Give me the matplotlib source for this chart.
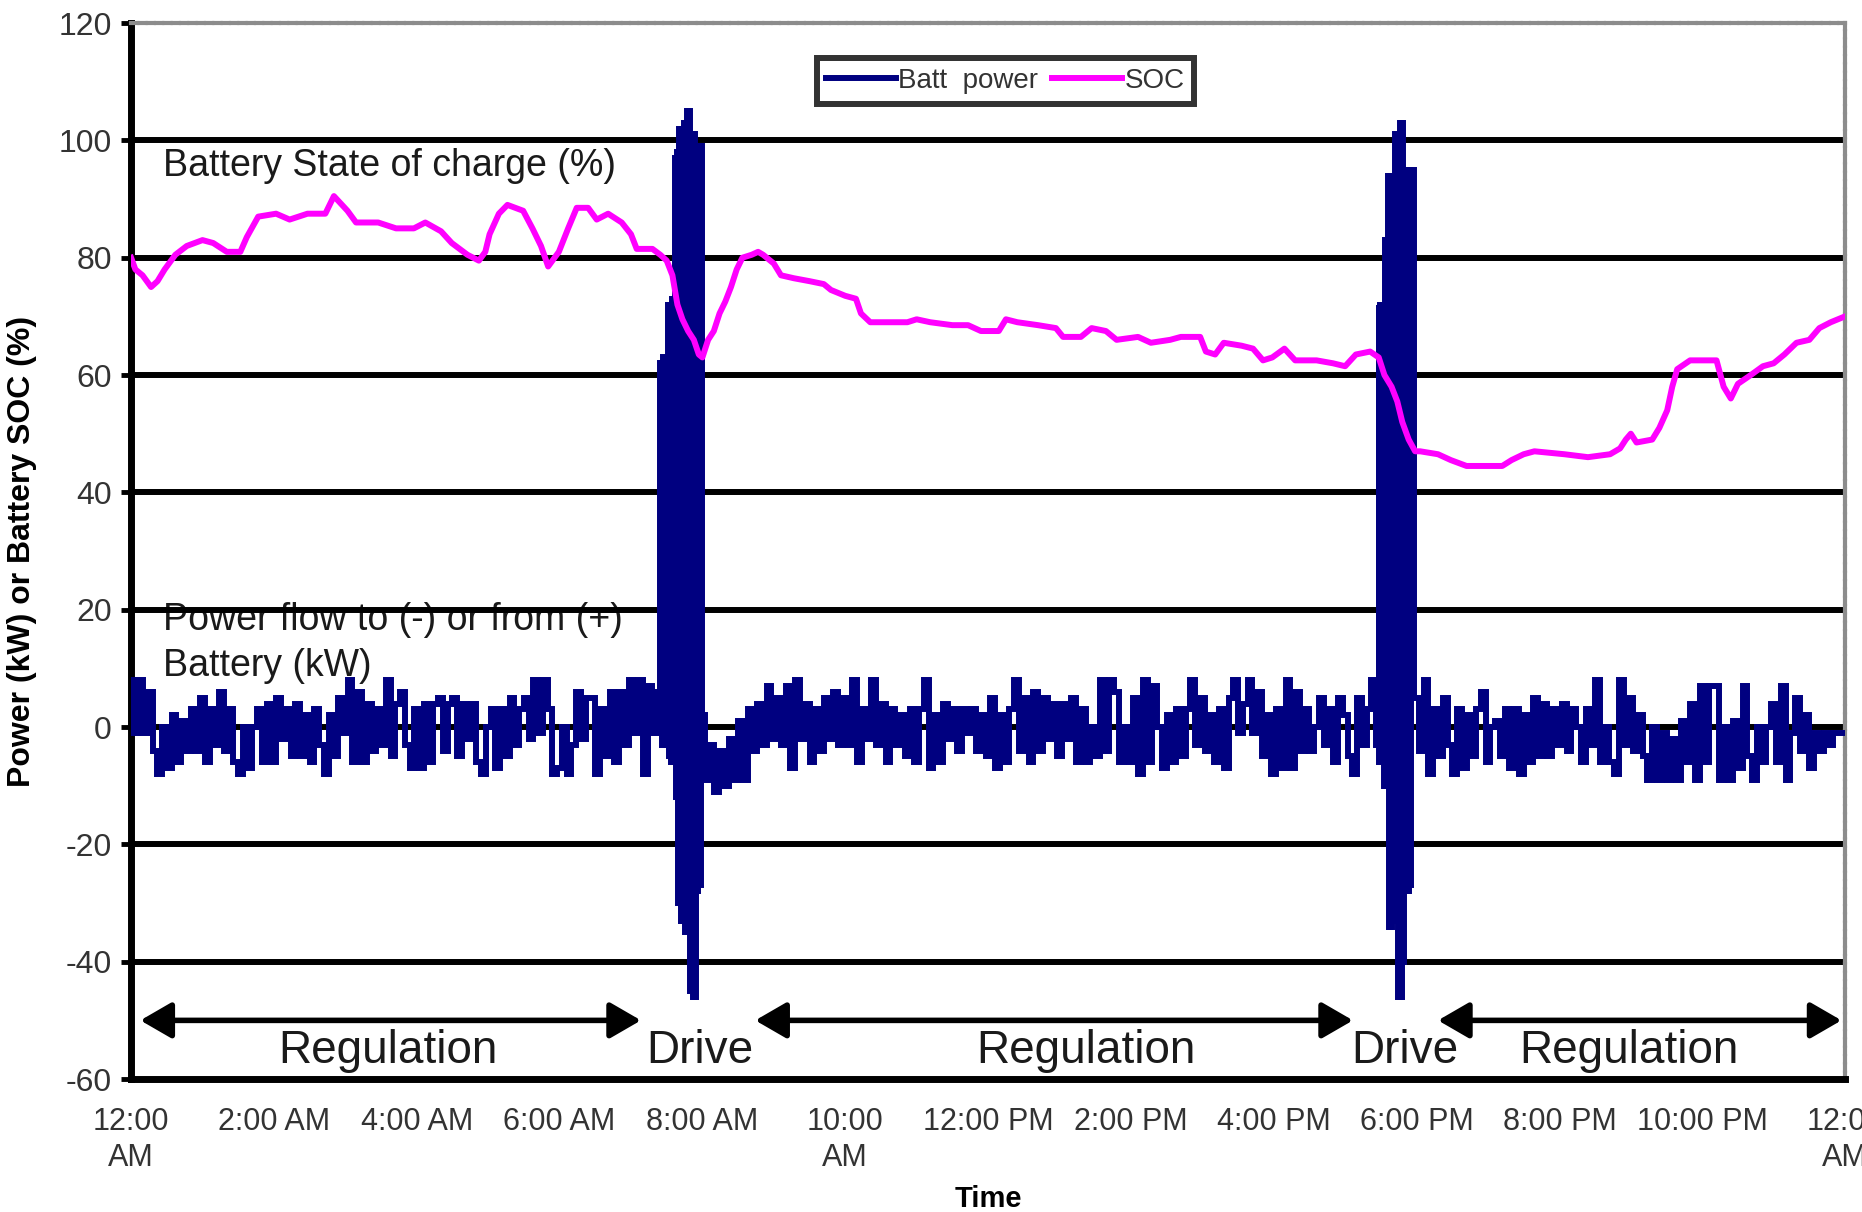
import numpy as np
import matplotlib
matplotlib.use('Agg')
import matplotlib.pyplot as plt

plt.rcParams['font.family'] = ['Liberation Sans', 'DejaVu Sans']
plt.rcParams['axes.unicode_minus'] = False

# --- battery power (kW), regulation sampled every 4 min, drive every 1 min ---
reg_step = 1 / 15.0

power_a = [  # 0:00 -> 7:24
    8, -1, 8, -1, 6, -4, -8, 0, -7, 2, -6, 1, -4, 3, -4,
    5, -6, 3, -3, 6, -4, 3, -6, -8, 0, -7, 0, 3, -6, 4,
    -6, 5, -2, 3, -5, 4, -5, 2, -6, 3, -3, -8, 2, -5, 5,
    -1, 8, -6, 6, -6, 4, -4, 3, -3, 8, -5, 4, 6, -3, -7,
    3, -7, 4, -6, 4, 5, -4, 4, 5, -5, 4, -2, 4, -6, -8,
    0, 3, -7, 3, -5, 5, -3, 3, 5, -2, 8, -1, 8, 3, -8,
    -7, 0, -8, -3, 6, -2, 5, 5, -8, 3, -5, 6, -6, 6, -3,
    8, -1, 8, -8, 7, -1, 6,
]
drive1_start = 7.42
drive1 = [
    62, -3, 63, -2, 62, -3, 72, -5, 72, -6, 73, -6, 97, -12, 98, -30,
    102, -33, 102, -33, 103, -35, 105, -35, 105, -45, 101, -46, 101, -46,
    99, -28, 99, -27, 99,
]
power_b_start = 8.0
power_b = [  # 8:00 -> 17:28
    2, -9, -3, -11, -4, -10, -2, -9, 1, -9, 3, -4, 4, -3, 7,
    -2, 5, -3, 7, -7, 8, -2, 4, -6, 3, -4, 5, -2, 6, -3,
    5, -3, 8, -6, 3, -2, 8, -3, 4, -6, 3, -3, 2, -5, 3,
    -6, 3, 8, -7, 2, -6, 4, -2, 3, -4, 3, -1, 3, -4, 2,
    -5, 5, -7, 2, -6, 3, 8, -4, 5, -6, 6, -4, 5, -2, 4,
    -5, 4, -2, 5, -6, 3, -6, 0, -5, 8, -4, 8, 6, -6, 0,
    -6, 5, -8, 8, -6, 7, 0, -7, 2, -6, 3, -5, 3, 8, -3,
    5, -4, 2, -6, 3, -7, 5, 8, -1, 4, 8, -1, 6, -5, 2,
    -8, 3, -7, 8, -7, 6, -4, 3, -4, 0, 5, -3, 3, -6, 5,
    2, -5, -8, 5, -3, 3, 8, -3,
]
drive2_start = 17.47
drive2 = [
    72, -6, 72, -5, 72, -10, 83, -10, 94, -34, 94, -34, 94, -30, 101, -33,
    101, -46, 103, -46, 103, -40, 95, -28, 95, -28, 95, -27, 95,
]
power_c_start = 18.0
power_c = [  # 18:00 -> 24:00
    5, -4, 8, -8, 3, -5, 5, -3, -8, 3, -7, 2, -5, 3, 6,
    -6, 0, 1, -5, 3, -7, 3, -8, 2, -6, 5, -5, 4, -5, 3,
    -3, 4, -4, 3, 0, -6, 3, -3, 8, -6, 0, -6, -8, 8, -3,
    5, -4, 2, -5, -9, 0, -9, -1, -9, -2, -9, 1, -6, 4, -9,
    7, -6, 7, 7, -9, 0, -9, 1, -7, 7, -5, -9, 0, -6, 0,
    4, -6, 7, -9, -1, 5, -4, 2, -7, -1, -4, -1, -3, -1, -1,
    -1,
]

# --- battery state of charge (%) ---
soc_t = [0.00, 0.06, 0.16, 0.28, 0.37, 0.47, 0.62, 0.78, 1.00, 1.15, 1.34, 1.53,
         1.62, 1.78, 2.03, 2.22, 2.47, 2.72, 2.84, 3.03, 3.15, 3.46, 3.71, 3.96,
         4.12, 4.34, 4.49, 4.71, 4.87, 4.96, 5.02, 5.15, 5.27, 5.49, 5.62, 5.74,
         5.84, 5.99, 6.12, 6.24, 6.40, 6.52, 6.68, 6.87, 7.00, 7.08, 7.30, 7.41,
         7.50, 7.58, 7.65, 7.72, 7.80, 7.88, 7.95, 8.00, 8.08, 8.16, 8.24, 8.32,
         8.40, 8.48, 8.56, 8.69, 8.78, 8.85, 9.00, 9.10, 9.28, 9.50, 9.70, 9.80,
         10.00, 10.15, 10.22, 10.35, 10.87, 11.00, 11.19, 11.50, 11.72, 11.90,
         12.15, 12.25, 12.41, 12.70, 12.95, 13.05, 13.30, 13.45, 13.65, 13.80,
         14.10, 14.28, 14.55, 14.70, 14.97, 15.05, 15.18, 15.30, 15.55, 15.71,
         15.85, 15.98, 16.15, 16.30, 16.60, 16.83, 17.00, 17.15, 17.35, 17.47,
         17.55, 17.65, 17.73, 17.80, 17.89, 17.98, 18.05, 18.30, 18.48, 18.70,
         18.96, 19.20, 19.33, 19.50, 19.65, 20.07, 20.40, 20.71, 20.85, 20.93,
         21.00, 21.08, 21.30, 21.40, 21.51, 21.58, 21.65, 21.83, 22.20, 22.30,
         22.40, 22.50, 22.68, 22.85, 23.00, 23.15, 23.32, 23.50, 23.64, 23.80,
         24.00]
soc_v = [80, 78, 77, 75, 76, 78, 80.5, 82, 83, 82.5, 81, 81,
         83.5, 87, 87.5, 86.5, 87.5, 87.5, 90.5, 88, 86, 86, 85, 85,
         86, 84.5, 82.5, 80.5, 79.5, 81, 84, 87.5, 89, 88, 85, 82,
         78.5, 81, 85, 88.5, 88.5, 86.5, 87.5, 86, 84, 81.5, 81.5, 80.5,
         79.5, 77, 72, 69.5, 67.5, 66, 63.5, 63, 66, 67.5, 70.5, 72.5,
         75, 78, 80, 80.5, 81, 80.5, 79, 77, 76.5, 76, 75.5, 74.5,
         73.5, 73, 70.5, 69, 69, 69.5, 69, 68.5, 68.5, 67.5,
         67.5, 69.5, 69, 68.5, 68, 66.5, 66.5, 68, 67.5, 66,
         66.5, 65.5, 66, 66.5, 66.5, 64, 63.5, 65.5, 65, 64.5,
         62.5, 63, 64.5, 62.5, 62.5, 62, 61.5, 63.5, 64, 63,
         60, 58, 55.5, 52, 49, 47, 47, 46.5, 45.5, 44.5,
         44.5, 44.5, 45.5, 46.5, 47, 46.5, 46, 46.5, 47.5, 49,
         50, 48.5, 49, 51, 54, 58, 61, 62.5, 62.5, 58,
         56, 58.5, 60, 61.5, 62, 63.5, 65.5, 66, 68, 69,
         70]

tick_hours = [0, 2, 4, 6, 8, 10, 12, 14, 16, 18, 20, 22, 24]
tick_labels = ['12:00\nAM', '2:00 AM', '4:00 AM', '6:00 AM', '8:00 AM', '10:00\nAM',
               '12:00 PM', '2:00 PM', '4:00 PM', '6:00 PM', '8:00 PM', '10:00 PM',
               '12:00\nAM']

phases = ['Regulation', 'Drive', 'Regulation', 'Drive', 'Regulation']
phase_centers = [3.6, 7.97, 13.37, 17.84, 20.98]
arrow_spans = [(0.13, 7.14), (8.74, 17.11), (18.3, 23.95)]


def seg_times(start, n, step):
    return start + step * np.arange(n)


t_power = np.concatenate([
    seg_times(0.0, len(power_a), reg_step),
    seg_times(drive1_start, len(drive1), 1 / 60.0),
    seg_times(power_b_start, len(power_b), reg_step),
    seg_times(drive2_start, len(drive2), 1 / 60.0),
    seg_times(power_c_start, len(power_c), reg_step),
])
p_power = np.array(power_a + drive1 + power_b + drive2 + power_c, dtype=float)

fig = plt.figure(figsize=(18.62, 12.12), dpi=100)
ax = fig.add_axes([0.0704, 0.1097, 0.9205, 0.8713])

NAVY = '#000080'
MAGENTA = '#FF00FF'
GREY_TXT = '#333333'

for y in range(-40, 101, 20):
    ax.axhline(y, color='black', lw=4.3, zorder=2)

ax.plot(t_power, p_power, color=NAVY, lw=4.3, drawstyle='steps-mid',
        solid_joinstyle='miter', label='Batt  power', zorder=3)
ax.plot(soc_t, soc_v, color=MAGENTA, lw=4.3, label='SOC', zorder=4)

ax.set_xlim(0, 24)
ax.set_ylim(-60, 120)
ax.set_yticks(range(-60, 121, 20))
ax.set_xticks(tick_hours)
ax.set_xticklabels(tick_labels, fontsize=22, color=GREY_TXT, linespacing=1.25)
ax.tick_params(axis='y', labelsize=23, labelcolor=GREY_TXT, direction='out',
               length=7, width=3.5, pad=7)
ax.tick_params(axis='x', length=0, pad=20)

for side in ['left', 'bottom']:
    ax.spines[side].set_linewidth(5)
    ax.spines[side].set_color('black')
for side in ['top', 'right']:
    ax.spines[side].set_linewidth(3)
    ax.spines[side].set_color('#8c8c8c')
    ax.spines[side].set_linestyle((0, (1.5, 0.5)))

ax.set_ylabel('Power (kW) or Battery SOC (%)', fontsize=23, fontweight='bold')
ax.yaxis.set_label_coords(-0.0548, 0.5)
ax.set_xlabel('Time', fontsize=21, fontweight='bold')
ax.xaxis.set_label_coords(0.5, -0.100)

# annotations
ax.text(0.45, 95.7, 'Battery State of charge (%)', fontsize=27, color='#1a1a1a',
        va='center', ha='left', zorder=1.5)
ax.text(0.45, 18.3, 'Power flow to (-) or from (+)', fontsize=27, color='#1a1a1a',
        va='center', ha='left', zorder=1.5)
ax.text(0.45, 10.4, 'Battery (kW)', fontsize=27, color='#1a1a1a',
        va='center', ha='left', zorder=1.5)

for (x0, x1) in arrow_spans:
    ax.annotate('', xy=(x1, -50), xytext=(x0, -50),
                arrowprops=dict(arrowstyle='<|-|>,head_length=0.95,head_width=0.55',
                                lw=4, color='black', mutation_scale=20,
                                shrinkA=0, shrinkB=0), zorder=5)
for name, xc in zip(phases, phase_centers):
    ax.text(xc, -55.3, name, fontsize=33, color='#1a1a1a', ha='center', va='center',
            zorder=5)

leg = ax.legend(loc='center', bbox_to_anchor=(0.540, 0.933),
                bbox_transform=fig.transFigure, ncol=2, fontsize=20,
                frameon=True, fancybox=False, handlelength=2.5,
                handletextpad=0.1, columnspacing=0.5, borderpad=0.35,
                borderaxespad=0)
leg.get_frame().set_edgecolor('black')
leg.get_frame().set_linewidth(4.3)
for txt in leg.get_texts():
    txt.set_color(GREY_TXT)
leg.set_zorder(6)

fig.savefig('out.png', dpi=100)
